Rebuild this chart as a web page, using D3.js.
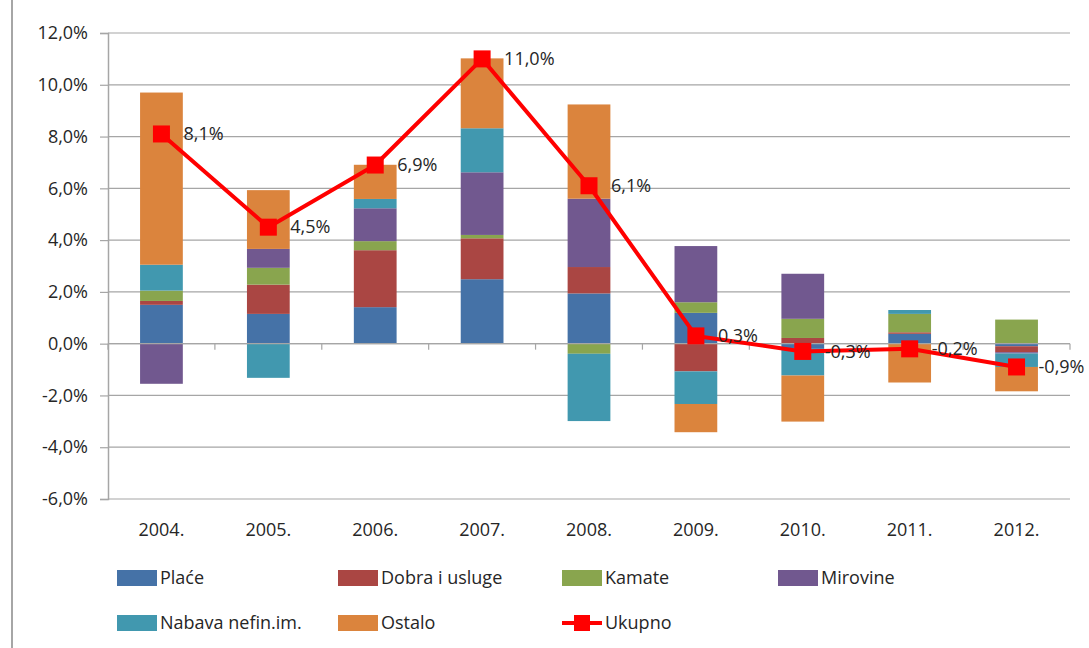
<!DOCTYPE html>
<html>
<head>
<meta charset="utf-8">
<script src="https://cdn.jsdelivr.net/npm/d3@7"></script>
<style>
  html, body { margin: 0; padding: 0; background: #fff; }
  svg { display: block; font-family: "Open Sans", Lato, sans-serif; }
</style>
</head>
<body>
<svg id="chart" width="1089" height="648"></svg>
<script>
const categories = ["2004.", "2005.", "2006.", "2007.", "2008.", "2009.", "2010.", "2011.", "2012."];
const seriesNames = ["Plaće", "Dobra i usluge", "Kamate", "Mirovine", "Nabava nefin.im.", "Ostalo"];
const place    = [1.5, 1.15, 1.41, 2.49, 1.94, 1.19, -0.2, 0.38, -0.1];
const dobra    = [0.15, 1.13, 2.2, 1.58, 1.02, -1.07, 0.22, 0.06, -0.23];
const kamate   = [0.4, 0.65, 0.35, 0.13, -0.39, 0.41, 0.74, 0.71, 0.93];
const mirovine = [-1.55, 0.73, 1.27, 2.42, 2.64, 2.17, 1.74, 0, -0.05];
const nabava   = [1.0, -1.32, 0.36, 1.7, -2.6, -1.26, -1.03, 0.15, -0.52];
const ostalo   = [6.65, 2.27, 1.32, 2.7, 3.64, -1.09, -1.78, -1.5, -0.94];
const ukupno   = [8.1, 4.5, 6.9, 11.0, 6.1, 0.3, -0.3, -0.2, -0.9];
const ukupnoLabels = ["8,1%", "4,5%", "6,9%", "11,0%", "6,1%", "0,3%", "-0,3%", "-0,2%", "-0,9%"];
const yTicks = [-6, -4, -2, 0, 2, 4, 6, 8, 10, 12];
const colors = ["#4572A7", "#AA4643", "#89A54E", "#71588F", "#4198AF", "#DB843D"];
const lineName = "Ukupno";
const lineColor = "#FF0000";

const seriesValues = [place, dobra, kamate, mirovine, nabava, ostalo];
const rows = categories.map((c, i) => {
  const r = { cat: c };
  seriesNames.forEach((s, k) => r[s] = seriesValues[k][i]);
  return r;
});

const svg = d3.select("#chart");
const plotLeft = 108, plotRight = 1070, plotTop = 33, plotBottom = 499;
const textColor = "#262626";
const fontSize = "18px";

const x = d3.scaleBand().domain(categories).range([plotLeft, plotRight]).paddingInner(0.6).paddingOuter(0.3);
const y = d3.scaleLinear().domain([-6, 12]).range([plotBottom, plotTop]);
const color = d3.scaleOrdinal().domain(seriesNames).range(colors);

// chart border (left)
svg.append("line").attr("x1", 12).attr("x2", 12).attr("y1", 0).attr("y2", 648)
  .attr("stroke", "#a6a6a6").attr("stroke-width", 2);

// gridlines
svg.append("g").selectAll("line").data(yTicks).join("line")
  .attr("x1", plotLeft).attr("x2", plotRight)
  .attr("y1", d => y(d)).attr("y2", d => y(d))
  .attr("stroke", "#a6a6a6").attr("stroke-width", 1.2);

// y axis
const yAxis = d3.axisLeft(y).tickValues(yTicks).tickSize(8).tickPadding(12)
  .tickFormat(d => d3.format(".1f")(d).replace(".", ",").replace("\u2212", "-") + "%");
const gy = svg.append("g").attr("transform", `translate(${plotLeft},0)`).call(yAxis);
gy.select(".domain").attr("stroke", "#a6a6a6").attr("stroke-width", 1.5);
gy.selectAll(".tick line").attr("stroke", "#a6a6a6").attr("stroke-width", 1.2);
gy.selectAll(".tick text").attr("fill", textColor).style("font-size", fontSize)
  .style("font-family", "'Open Sans', Lato, sans-serif");

// stacked bars
const stack = d3.stack().keys(seriesNames).offset(d3.stackOffsetDiverging);
const stacked = stack(rows);
svg.append("g").selectAll("g").data(stacked).join("g")
  .attr("fill", d => color(d.key))
  .selectAll("rect").data(d => d).join("rect")
  .attr("x", d => x(d.data.cat))
  .attr("width", x.bandwidth())
  .attr("y", d => y(Math.max(d[0], d[1])))
  .attr("height", d => Math.abs(y(d[0]) - y(d[1])));

// x axis at zero
const step = x.step();
const boundaries = d3.range(categories.length + 1).map(i => plotLeft + i * step);
svg.append("line").attr("x1", plotLeft).attr("x2", plotRight).attr("y1", y(0)).attr("y2", y(0))
  .attr("stroke", "#a6a6a6").attr("stroke-width", 1.2);
svg.append("g").selectAll("line").data(boundaries).join("line")
  .attr("x1", d => d).attr("x2", d => d).attr("y1", y(0)).attr("y2", y(0) + 6)
  .attr("stroke", "#a6a6a6").attr("stroke-width", 1.2);
svg.append("g").selectAll("text").data(categories).join("text")
  .attr("x", d => x(d) + x.bandwidth() / 2)
  .attr("y", 530).attr("dy", "0.35em")
  .attr("text-anchor", "middle").attr("fill", textColor).style("font-size", fontSize)
  .text(d => d);

// line
const cx = (d, i) => x(categories[i]) + x.bandwidth() / 2;
const line = d3.line().x((d, i) => cx(d, i)).y(d => y(d));
svg.append("path").datum(ukupno).attr("d", line)
  .attr("fill", "none").attr("stroke", lineColor).attr("stroke-width", 4).attr("stroke-linejoin", "round");
const ms = 17;
svg.append("g").selectAll("rect").data(ukupno).join("rect")
  .attr("x", (d, i) => cx(d, i) - ms / 2).attr("y", d => y(d) - ms / 2)
  .attr("width", ms).attr("height", ms).attr("fill", lineColor);
svg.append("g").selectAll("text").data(ukupno).join("text")
  .attr("x", (d, i) => cx(d, i) + 22).attr("y", d => y(d)).attr("dy", "0.35em")
  .attr("fill", textColor).style("font-size", fontSize)
  .text((d, i) => ukupnoLabels[i]);

// legend
const legendItems = seriesNames.map((s, k) => ({ name: s, color: colors[k], type: "bar" }))
  .concat([{ name: lineName, color: lineColor, type: "line" }]);
const colX = [117, 338, 562, 778];
const rowY = [578, 623];
const symW = 40;
const lg = svg.append("g").selectAll("g").data(legendItems).join("g")
  .attr("transform", (d, i) => `translate(${colX[i % 4]},${rowY[Math.floor(i / 4)]})`);
lg.filter(d => d.type === "bar").append("rect")
  .attr("x", 0).attr("y", -8).attr("width", symW).attr("height", 16).attr("fill", d => d.color);
lg.filter(d => d.type === "line").append("line")
  .attr("x1", 0).attr("x2", symW).attr("y1", 0).attr("y2", 0).attr("stroke", d => d.color).attr("stroke-width", 4);
lg.filter(d => d.type === "line").append("rect")
  .attr("x", symW / 2 - 8).attr("y", -8).attr("width", 16).attr("height", 16).attr("fill", d => d.color);
lg.append("text").attr("x", symW + 3).attr("y", 0).attr("dy", "0.35em")
  .attr("fill", textColor).style("font-size", fontSize).text(d => d.name);
</script>
</body>
</html>
